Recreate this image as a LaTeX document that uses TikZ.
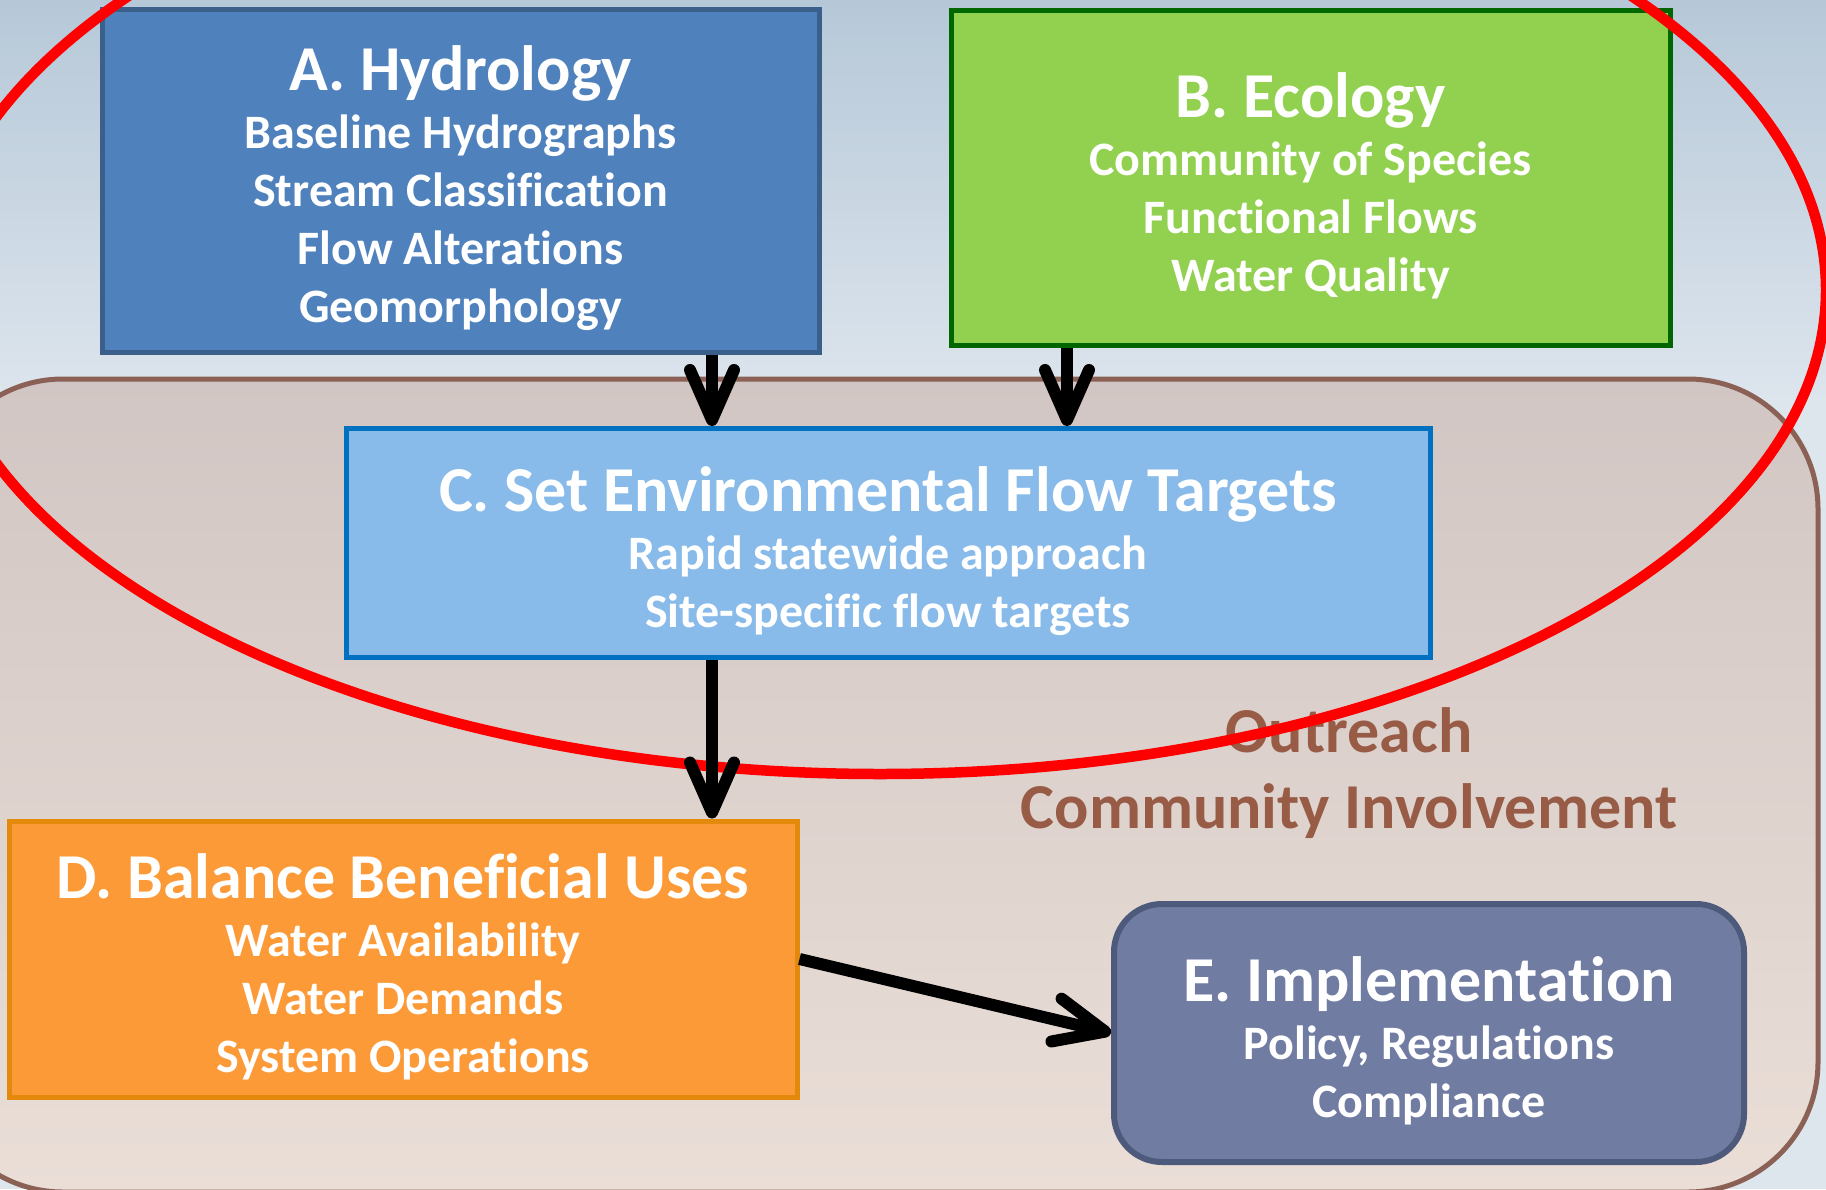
\documentclass[tikz,border=0pt]{standalone}
\usepackage{fontspec}
\setmainfont{Carlito}[Ligatures={NoCommon,NoRare}]
\usetikzlibrary{arrows.meta}

\definecolor{skytop}{HTML}{B6C8D8}
\definecolor{skylow}{HTML}{DDE5ED}
\definecolor{zonetop}{HTML}{D2C6C4}
\definecolor{zonelow}{HTML}{EADED7}
\definecolor{zoneline}{HTML}{8B6156}
\definecolor{hydfill}{HTML}{4F81BD}
\definecolor{hydline}{HTML}{3A5F8B}
\definecolor{ecofill}{HTML}{92D050}
\definecolor{ecoline}{HTML}{006600}
\definecolor{tgtfill}{HTML}{88BBE9}
\definecolor{tgtline}{HTML}{0070C0}
\definecolor{balfill}{HTML}{FD9A38}
\definecolor{balline}{HTML}{E3890C}
\definecolor{impfill}{HTML}{717CA3}
\definecolor{impline}{HTML}{4E5A7C}
\definecolor{outtext}{HTML}{985C46}

\newcommand{\hdsz}{\fontsize{64}{58}\selectfont}

\tikzset{
  panel/.style={draw, line width=5pt, inner sep=0pt},
  paneltext/.style={align=center, inner sep=0pt, yshift=-8pt,
    text=white, font=\bfseries\fontsize{48}{58}\selectfont},
  flow/.style={line width=12pt, draw=black,
    -{Straight Barb[length=50pt, width=44pt, round]}},
}

\begin{document}
\begin{tikzpicture}[x=1pt, y=-1pt]
\useasboundingbox (0,0) rectangle (1826,1189);
\begin{scope}
\clip (0,0) rectangle (1826,1189);

% sky background
\shade[top color=skytop, bottom color=skylow] (0,0) rectangle (1826,400);
\fill[skylow] (0,399) rectangle (1826,1189);

% outreach zone
\shade[top color=zonetop, bottom color=zonelow, draw=zoneline, line width=5pt,
  rounded corners=130pt] (-67,379) rectangle (1818,1192);

% process boxes
\node[panel, fill=hydfill, draw=hydline, minimum width=717pt, minimum height=343pt]
  (A) at (460.5,180.5) {};
\node[panel, fill=ecofill, draw=ecoline, minimum width=719pt, minimum height=335pt]
  (B) at (1310.5,177.5) {};
\node[panel, fill=tgtfill, draw=tgtline, minimum width=1084pt, minimum height=229pt]
  (C) at (888,543) {};
\node[panel, fill=balfill, draw=balline, minimum width=788pt, minimum height=276pt]
  (D) at (403,959) {};
\node[panel, fill=impfill, draw=impline, line width=6pt, rounded corners=48pt,
  minimum width=630pt, minimum height=258pt]
  (E) at (1429,1033) {};

% box contents
\node[paneltext] (At) at (A.center)
  {{\hdsz A. Hydrology}\\Baseline Hydrographs\\Stream Classification\\Flow Alterations\\Geomorphology};
\node[paneltext] (Bt) at (B.center)
  {{\hdsz B. Ecology}\\Community of Species\\Functional Flows\\Water Quality};
\node[paneltext] (Ct) at (C.center)
  {{\hdsz C. Set Environmental Flow Targets}\\Rapid statewide approach\\Site-specific flow targets};
\node[paneltext] (Dt) at (D.center)
  {{\hdsz D. Balance Beneficial Uses}\\Water Availability\\Water Demands\\System Operations};
\node[paneltext] (Et) at (E.center)
  {{\hdsz E. Implementation}\\Policy, Regulations\\Compliance};

% zone label
\node[align=center, text=outtext, font=\bfseries\fontsize{64}{76}\selectfont]
  (O) at (1349,773) {Outreach\\Community Involvement};

% highlight ring
\draw[red, line width=10.5pt] (880,290) ellipse [x radius=946, y radius=484];

% connectors
\coordinate (xa) at (712,0);
\coordinate (xb) at (1067,0);
\draw[flow] (A.south -| xa) -- (C.north -| xa);
\draw[flow] (B.south -| xb) -- (C.north -| xb);
\draw[flow] (C.south -| xa) -- (D.north -| xa);
\draw[flow] (D.east) -- (E.west);
\end{scope}
\end{tikzpicture}
\end{document}
